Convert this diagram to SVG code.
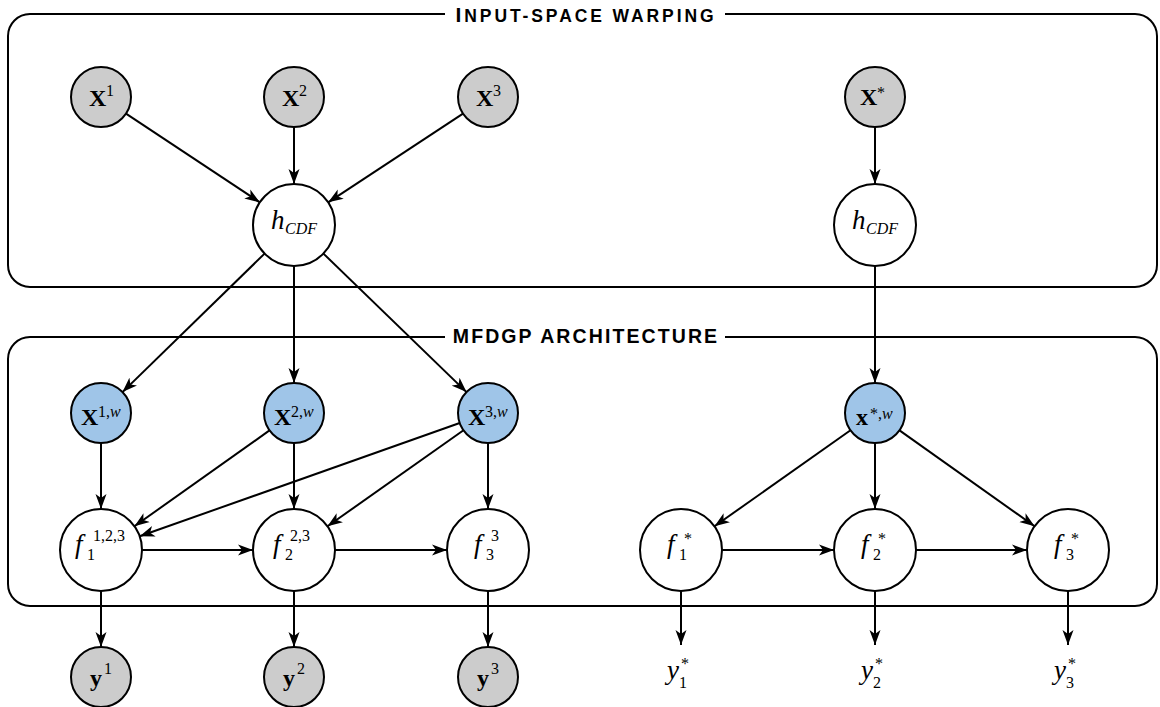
<svg xmlns="http://www.w3.org/2000/svg" width="1160" height="707" viewBox="0 0 1160 707">
<style>
.box{fill:none;stroke:#000;stroke-width:2}
.n{stroke:#000;stroke-width:2}
.obs{fill:#cccccc}
.warp{fill:#9fc5e8}
.lat{fill:#fff}
.e{stroke:#000;stroke-width:2;fill:none;marker-end:url(#arr)}
.bx{font-family:"Liberation Serif","DejaVu Serif",serif;font-weight:bold;font-size:24px;fill:#000}
.it{font-family:"Liberation Serif","DejaVu Serif",serif;font-style:italic;font-size:27px;fill:#000}
.s{font-family:"Liberation Serif","DejaVu Serif",serif;font-size:16px;fill:#000}
.si{font-family:"Liberation Serif","DejaVu Serif",serif;font-style:italic;font-size:16px;fill:#000}
.ttl{font-family:"Liberation Sans","DejaVu Sans",sans-serif;font-weight:bold;fill:#000}
</style>
<defs>
<marker id="arr" markerUnits="userSpaceOnUse" markerWidth="16" markerHeight="12" viewBox="0 0 16 12" refX="15" refY="6" orient="auto">
<path d="M0,0.5 L15,6 L0,11.5 L4,6 Z" fill="#000"/>
</marker>
</defs>
<rect width="1160" height="707" fill="#fff"/>

<g id="box-input">
<rect class="box" x="8" y="14" width="1149" height="273" rx="22"/>
<rect x="445" y="3" width="280" height="24" fill="#fff"/>
<text class="ttl" x="586" y="22" text-anchor="middle" letter-spacing="2.9"><tspan font-size="21">I</tspan><tspan font-size="17.5">NPUT-SPACE WARPING</tspan></text>
</g>
<g id="box-mfdgp">
<rect class="box" x="8" y="337" width="1149" height="269" rx="22"/>
<rect x="445" y="325" width="280" height="24" fill="#fff"/>
<text class="ttl" x="586" y="343" text-anchor="middle" font-size="19.5" letter-spacing="2.1">MFDGP ARCHITECTURE</text>
</g>

<g id="connectors">
<line class="e" x1="126" y1="113.6" x2="259.8" y2="202.3"/>
<line class="e" x1="294" y1="127" x2="294" y2="184"/>
<line class="e" x1="463" y1="113.6" x2="328.2" y2="202.3"/>
<line class="e" x1="875" y1="127" x2="875" y2="184"/>
<line class="e" x1="264.6" y1="253.6" x2="122.5" y2="392.1"/>
<line class="e" x1="294" y1="266" x2="294" y2="383"/>
<line class="e" x1="323.4" y1="253.6" x2="466.5" y2="392.1"/>
<line class="e" x1="875" y1="266" x2="875" y2="383"/>
<line class="e" x1="101" y1="443" x2="101" y2="509"/>
<line class="e" x1="269.5" y1="430.4" x2="134.4" y2="526.3"/>
<line class="e" x1="294" y1="443" x2="294" y2="509"/>
<line class="e" x1="459.7" y1="423" x2="139.7" y2="536.3"/>
<line class="e" x1="463.5" y1="430.3" x2="327.5" y2="526.3"/>
<line class="e" x1="488" y1="443" x2="488" y2="509"/>
<line class="e" x1="142" y1="550" x2="253" y2="550"/>
<line class="e" x1="335" y1="550" x2="447" y2="550"/>
<line class="e" x1="850.5" y1="430.3" x2="714.5" y2="526.3"/>
<line class="e" x1="875" y1="443" x2="875" y2="509"/>
<line class="e" x1="899.5" y1="430.4" x2="1034.6" y2="526.3"/>
<line class="e" x1="722" y1="550" x2="834" y2="550"/>
<line class="e" x1="916" y1="550" x2="1027" y2="550"/>
<line class="e" x1="101" y1="591" x2="101" y2="647"/>
<line class="e" x1="294" y1="591" x2="294" y2="647"/>
<line class="e" x1="488" y1="591" x2="488" y2="647"/>
<line class="e" x1="681" y1="591" x2="681" y2="645"/>
<line class="e" x1="875" y1="591" x2="875" y2="645"/>
<line class="e" x1="1068" y1="591" x2="1068" y2="645"/>
</g>

<g id="X1"><circle class="n obs" cx="101" cy="97" r="30"/><text class="bx" x="89" y="106">X</text><text class="s" x="106" y="96">1</text></g>
<g id="X2"><circle class="n obs" cx="294" cy="97" r="30"/><text class="bx" x="282" y="106">X</text><text class="s" x="299" y="96">2</text></g>
<g id="X3"><circle class="n obs" cx="488" cy="97" r="30"/><text class="bx" x="476" y="106">X</text><text class="s" x="493" y="96">3</text></g>
<g id="Xstar"><circle class="n obs" cx="875" cy="97" r="30"/><text class="bx" x="860" y="105">X</text><text class="s" x="877" y="98">*</text></g>

<g id="hCDF"><circle class="n lat" cx="294" cy="225" r="41"/><text class="it" x="271" y="229">h</text><text class="si" x="285" y="234">CDF</text></g>
<g id="hCDFstar"><circle class="n lat" cx="875" cy="225" r="41"/><text class="it" x="852" y="229">h</text><text class="si" x="866" y="234">CDF</text></g>

<g id="X1w"><circle class="n warp" cx="101" cy="413" r="30"/><text class="bx" x="81" y="425">X</text><text class="s" x="98" y="417">1,<tspan font-style="italic">w</tspan></text></g>
<g id="X2w"><circle class="n warp" cx="294" cy="413" r="30"/><text class="bx" x="274" y="425">X</text><text class="s" x="291" y="417">2,<tspan font-style="italic">w</tspan></text></g>
<g id="X3w"><circle class="n warp" cx="488" cy="413" r="30"/><text class="bx" x="468" y="425">X</text><text class="s" x="485" y="417">3,<tspan font-style="italic">w</tspan></text></g>
<g id="xstarw"><circle class="n warp" cx="875" cy="413" r="30"/><text class="bx" x="856" y="425">x</text><text class="s" x="870" y="419">*,<tspan font-style="italic">w</tspan></text></g>

<g id="f1"><circle class="n lat" cx="101" cy="550" r="41"/><text class="it" x="75" y="553">f</text><text class="s" x="87" y="560">1</text><text class="s" x="93" y="541">1,2,3</text></g>
<g id="f2"><circle class="n lat" cx="294" cy="550" r="41"/><text class="it" x="273" y="553">f</text><text class="s" x="285" y="560">2</text><text class="s" x="290" y="541">2,3</text></g>
<g id="f3"><circle class="n lat" cx="488" cy="550" r="41"/><text class="it" x="474" y="553">f</text><text class="s" x="486" y="560">3</text><text class="s" x="491" y="541">3</text></g>
<g id="f1star"><circle class="n lat" cx="681" cy="550" r="41"/><text class="it" x="667" y="553">f</text><text class="s" x="679" y="560">1</text><text class="s" x="684" y="544">*</text></g>
<g id="f2star"><circle class="n lat" cx="875" cy="550" r="41"/><text class="it" x="861" y="553">f</text><text class="s" x="873" y="560">2</text><text class="s" x="878" y="544">*</text></g>
<g id="f3star"><circle class="n lat" cx="1068" cy="550" r="41"/><text class="it" x="1054" y="553">f</text><text class="s" x="1066" y="560">3</text><text class="s" x="1071" y="544">*</text></g>

<g id="y1"><circle class="n obs" cx="101" cy="677" r="30"/><text class="bx" x="90" y="686">y</text><text class="s" x="104" y="674">1</text></g>
<g id="y2"><circle class="n obs" cx="294" cy="677" r="30"/><text class="bx" x="283" y="686">y</text><text class="s" x="297" y="674">2</text></g>
<g id="y3"><circle class="n obs" cx="488" cy="677" r="30"/><text class="bx" x="477" y="686">y</text><text class="s" x="491" y="674">3</text></g>
<g id="y1star"><text class="it" x="667" y="679">y</text><text class="s" x="679" y="688" font-size="14">1</text><text class="s" x="681" y="669">*</text></g>
<g id="y2star"><text class="it" x="861" y="679">y</text><text class="s" x="873" y="688" font-size="14">2</text><text class="s" x="875" y="669">*</text></g>
<g id="y3star"><text class="it" x="1054" y="679">y</text><text class="s" x="1066" y="688" font-size="14">3</text><text class="s" x="1068" y="669">*</text></g>
</svg>
